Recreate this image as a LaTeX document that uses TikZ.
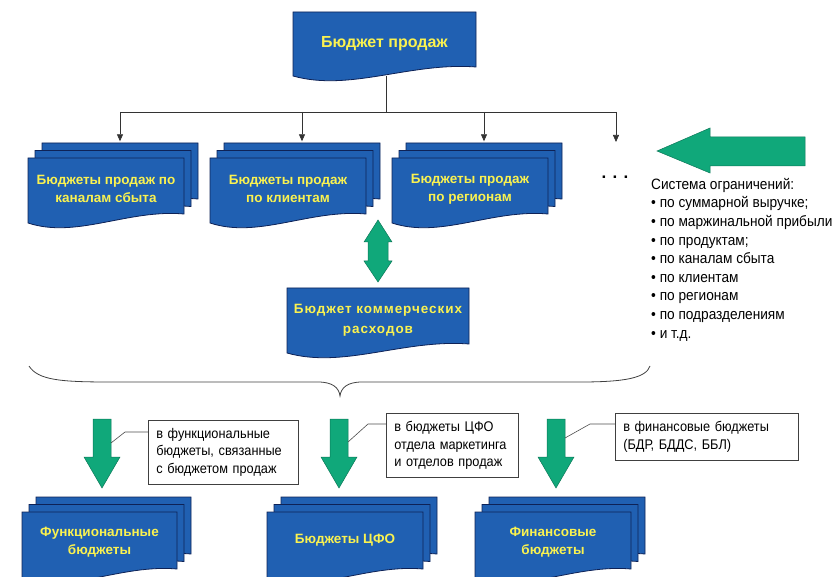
\documentclass[tikz,border=0pt]{standalone}
\usepackage{fontspec}
\setmainfont{Liberation Sans}
\newfontfamily\narrowfont[FakeStretch=0.91]{Liberation Sans}
\newfontfamily\spacedfont[LetterSpace=7]{Liberation Sans}
\usetikzlibrary{arrows.meta, positioning}

\definecolor{docblue}{RGB}{32,96,178}
\definecolor{docedge}{RGB}{14,34,86}
\definecolor{docyellow}{RGB}{250,242,80}
\definecolor{arrgreen}{RGB}{16,168,122}
\definecolor{arredge}{RGB}{12,120,88}

% document shape: left x, top y, right x, bottom-left y
\newcommand{\docpath}[4]{%
  \filldraw[docfill] ({#1},{#2}) -- ({#3},{#2}) -- ({#3},{(#4)-9})
    .. controls ({(#1)+0.64*((#3)-(#1))},{(#4)-14}) and ({(#1)+0.31*((#3)-(#1))},{(#4)+16}) .. ({#1},{#4}) -- cycle;}
% three stacked documents
\newcommand{\docstack}[4]{%
  \docpath{(#1)+14}{(#2)-15}{(#3)+14}{(#4)-15}
  \docpath{(#1)+7}{(#2)-7.5}{(#3)+7}{(#4)-7.5}
  \docpath{#1}{#2}{#3}{#4}}
% green down arrow, centre x
\newcommand{\greendown}[1]{%
  \filldraw[arrfill] ({(#1)-9},419) -- ({(#1)+9},419) -- ({(#1)+9},457) -- ({(#1)+18},457)
    -- ({#1},488) -- ({(#1)-18},457) -- ({(#1)-9},457) -- cycle;}

\begin{document}
\begin{tikzpicture}[x=1pt, y=-1pt,
    docfill/.style={fill=docblue, draw=docedge, line width=0.8pt},
    doctext/.style={text=docyellow, font=\fontsize{13.5}{18}\selectfont\bfseries, align=center, inner sep=0pt},
    arrfill/.style={fill=arrgreen, draw=arredge, line width=0.5pt},
    conn/.style={draw=black!80, line width=0.7pt},
    tip/.style={-{Triangle[length=7pt, width=6pt]}},
    note/.style={draw=black!75, fill=white, line width=0.6pt, align=left, anchor=north west,
      inner sep=8pt, font=\narrowfont\fontsize{14}{17.5}\selectfont},
    lead/.style={draw=black!70, line width=0.6pt}]
  \useasboundingbox (0,0) rectangle (838,577);

  % top level
  \docpath{293}{12}{476}{76}
  \node[doctext, font=\fontsize{16}{19}\selectfont\bfseries, minimum width=183, minimum height=64] (sales) at (384.5,44) {Бюджет продаж};

  % sales budgets by dimension
  \docstack{28}{158}{184}{223}
  \docstack{210}{158}{366}{223}
  \docstack{392}{158}{548}{223}
  \node[doctext, minimum width=156, minimum height=65] (chan) at (106,189) {Бюджеты продаж по\\каналам сбыта};
  \node[doctext, minimum width=156, minimum height=65] (client) at (288,189) {Бюджеты продаж\\по клиентам};
  \node[doctext, minimum width=156, minimum height=65] (region) at (470,189) {Бюджеты продаж\\по регионам};
  \node[font=\fontsize{17}{17}\selectfont\bfseries, inner sep=0pt] (dots) at (615,177) {. . .};

  \coordinate (bar) at (386,112);
  \coordinate (more) at (616,142);
  \coordinate (t1) at ([xshift=14pt, yshift=15pt]chan.north);
  \coordinate (t2) at ([xshift=14pt, yshift=15pt]client.north);
  \coordinate (t3) at ([xshift=14pt, yshift=15pt]region.north);
  \draw[conn] (bar |- sales.south) -- (bar);
  \draw[conn] (t1 |- bar) -- (more |- bar);
  \foreach \t in {t1, t2, t3, more}
    \draw[conn, tip] (\t |- bar) -- (\t);

  % constraints
  \filldraw[arrfill] (657,151) -- (710,128) -- (710,137) -- (805,137) -- (805,166) -- (710,166) -- (710,173) -- cycle;
  \node[anchor=north west, align=left, inner sep=0pt, font=\narrowfont\fontsize{15}{18.6}\selectfont] (limits) at (651,178)
    {Система ограничений:\\
     • по суммарной выручке;\\
     • по маржинальной прибыли\\
     • по продуктам;\\
     • по каналам сбыта\\
     • по клиентам\\
     • по регионам\\
     • по подразделениям\\
     • и т.д.};

  % commercial expenses
  \filldraw[arrfill] (378,220) -- (392,242) -- (388,242) -- (388,261) -- (392,261) -- (378,282)
    -- (364,261) -- (368,261) -- (368,242) -- (364,242) -- cycle;
  \docpath{287}{288}{469}{353}
  \node[doctext, font=\spacedfont\fontsize{13.5}{20}\selectfont\bfseries, minimum width=182, minimum height=65] (comm) at (378,320) {Бюджет коммерческих\\расходов};

  % brace
  \draw[draw=black!75, line width=0.8pt] (29,366) .. controls (38,380) and (60,382) .. (110,382) -- (318,382)
    .. controls (333,382) and (339,388) .. (340,396) .. controls (341,388) and (347,382) .. (362,382)
    -- (580,382) .. controls (625,382) and (646,378) .. (650,366);

  % transfers
  \greendown{102}
  \greendown{339}
  \greendown{556}
  \node[note, minimum width=150, minimum height=60, text width=134] (n1) at (148,420)
    {в функциональные\\бюджеты, связанные\\с бюджетом продаж};
  \node[note, minimum width=132, minimum height=60, text width=116] (n2) at (386,413)
    {в бюджеты ЦФО\\отдела маркетинга\\и отделов продаж};
  \node[note, minimum width=183, minimum height=46, text width=167] (n3) at (615,413)
    {в финансовые бюджеты\\(БДР, БДДС, ББЛ)};
  \coordinate (k1) at (125,432);
  \coordinate (s1) at (111,443);
  \coordinate (k2) at (368,424);
  \coordinate (s2) at (348,442);
  \coordinate (k3) at (590,424);
  \coordinate (s3) at (565,438);
  \draw[lead] (n1.west |- k1) -- (k1) -- (s1);
  \draw[lead] (n2.west |- k2) -- (k2) -- (s2);
  \draw[lead] (n3.west |- k3) -- (k3) -- (s3);

  % resulting budgets
  \docstack{22}{512}{177}{578}
  \docstack{267}{512}{423}{578}
  \docstack{475}{512}{631}{578}
  \node[doctext, minimum width=155, minimum height=66] (func) at (99.5,542) {Функциональные\\бюджеты};
  \node[doctext, minimum width=156, minimum height=66] (cfo) at (345,540) {Бюджеты ЦФО};
  \node[doctext, minimum width=156, minimum height=66] (fin) at (553,542) {Финансовые\\бюджеты};
\end{tikzpicture}
\end{document}
